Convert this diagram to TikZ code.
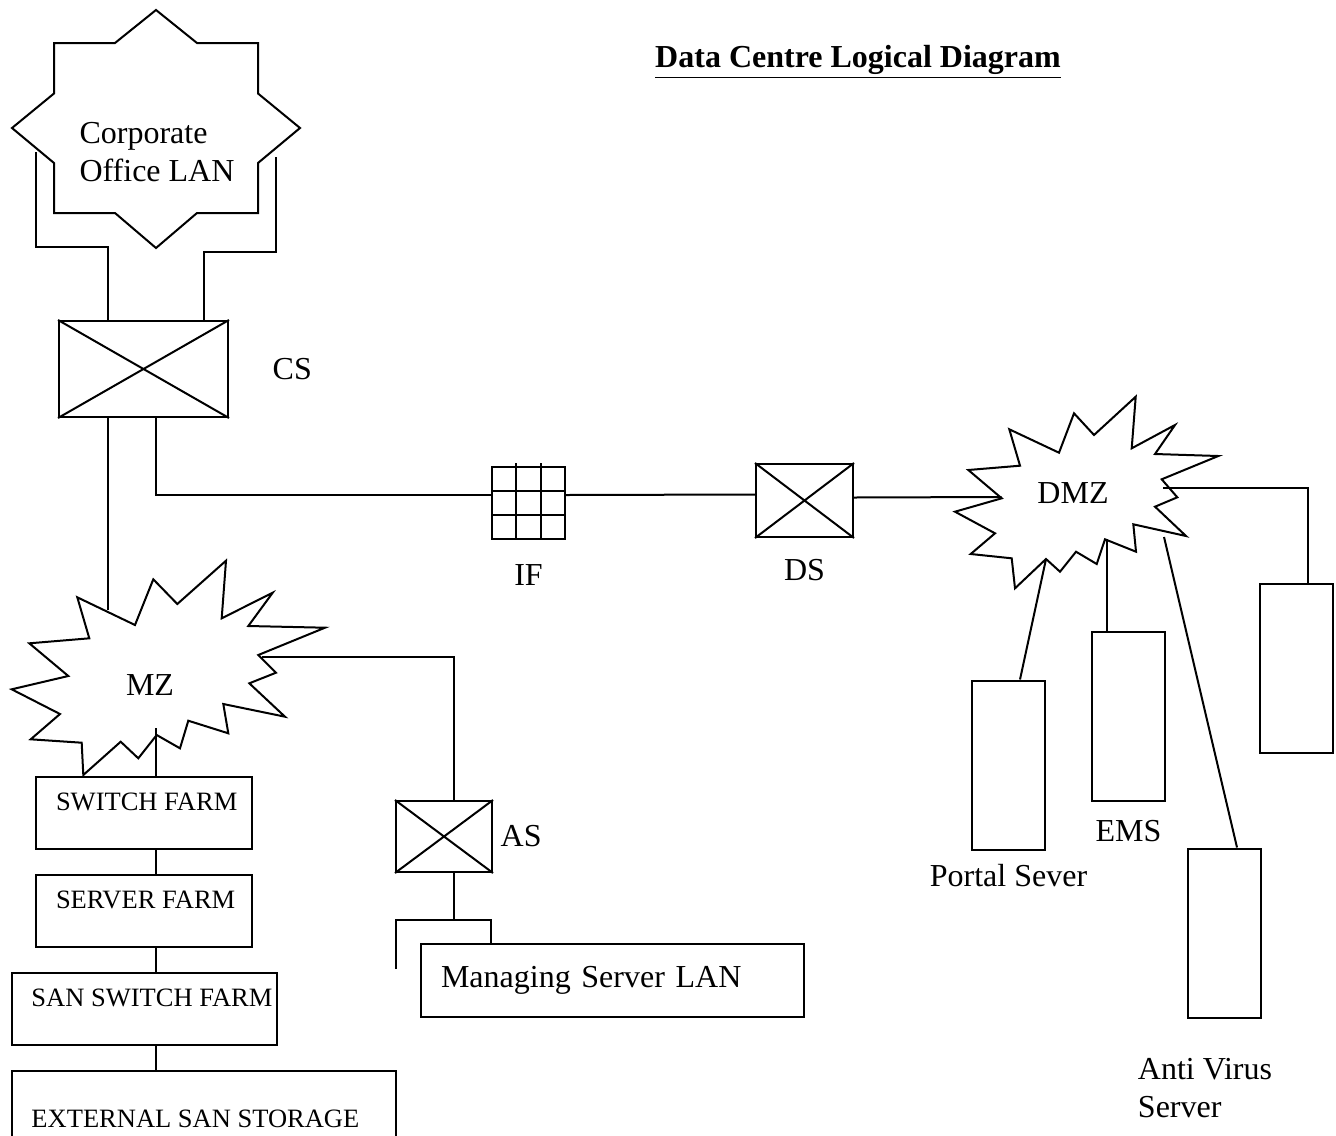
\documentclass[tikz,border=0pt]{standalone}
\usepackage{fontspec}
\setmainfont{Liberation Serif}
\usetikzlibrary{positioning,calc}
\newcommand{\farmfont}{\fontsize{13.25pt}{16pt}\selectfont}
\tikzset{switchbox/.style={draw, rectangle, inner sep=0pt},
	server/.style={draw, rectangle, inner sep=0pt, minimum width=36.5pt, minimum height=84.5pt},
	farm/.style={draw, rectangle, inner sep=0pt, minimum height=36pt},
	farmtext/.style={anchor=base west, inner sep=0pt, font=\farmfont}}

\begin{document}
\begin{tikzpicture}[x=0.5pt, y=-0.5pt, line width=1pt, font={\fontsize{16pt}{19pt}\selectfont}]
	\path[use as bounding box, fill=white] (0,0) rectangle (1336,1135);
	% clouds
	\draw (156,10) -- (197,43) -- (258,43) -- (258,93.5) -- (300,128) -- (258,163) -- (258,213) -- (197,213) -- (156,248) -- (115,213) -- (54,213) -- (54,163) -- (12,128) -- (54,93.5) -- (54,43) -- (115,43) -- cycle;
	\draw (77.3,597.3) -- (135,625) -- (153.3,579.3) -- (177.3,604) -- (226,560.7) -- (221.7,618.3) -- (272.7,592.7) -- (248.3,626) -- (325,627.7) -- (258.3,655) -- (276,672.7) -- (249.3,683.3) -- (285,716.7) -- (223.3,704) -- (228.3,733.3) -- (188.3,720.7) -- (180,748.3) -- (156.7,735) -- (138.3,758.3) -- (120.7,741.7) -- (83.3,775) -- (81.7,742.7) -- (30.7,739.3) -- (60,714) -- (11.7,689.3) -- (68.3,676) -- (29.3,643.3) -- (89.3,638.3) -- cycle;
	\draw (968.3,470) -- (1020,465.7) -- (1009.3,429.3) -- (1059,452.7) -- (1074,413.3) -- (1094,435) -- (1135.7,396.7) -- (1131.7,448.3) -- (1175,425) -- (1155,454) -- (1218.3,456) -- (1161.7,479.3) -- (1177.3,497.3) -- (1155,506.7) -- (1186,536) -- (1133.3,524.3) -- (1136,551.7) -- (1105,539.3) -- (1096.7,564) -- (1076,551.7) -- (1060,571.7) -- (1046,559) -- (1015,588.3) -- (1011.7,558.3) -- (970.7,554) -- (995,533.3) -- (955,511.7) -- (1001.7,498.3) -- cycle;
	\node[align=left] (lan) at (157,152) {Corporate\\Office LAN};
	\node (mz) at (150,685) {MZ};
	\node (dmz) at (1073,493) {DMZ};
	\node[font={\fontsize{16pt}{19pt}\selectfont\bfseries}] (title) at (858,62) {\underline{Data Centre Logical Diagram}};
	\coordinate (lanL) at (36,152);
	\coordinate (lanR) at (276,157);
	\coordinate (mzT) at (108,610);
	\coordinate (mzE) at (262,657);
	\coordinate (mzB) at (156,728);
	\coordinate (dmzW) at (1001.7,497);
	\coordinate (dmzE) at (1163,488);
	\coordinate (dmzP) at (1046,559);
	\coordinate (dmzM) at (1107,539);
	\coordinate (dmzA) at (1164,537);
	\coordinate (msfree) at (396,969);
	% switches and firewall
	\node[switchbox, minimum width=84.5pt, minimum height=48pt] (cs) at (143.5,369) {};
	\node[right=18pt of cs] (cslbl) {CS};
	\node[switchbox, minimum width=36.5pt, minimum height=36pt] (fw) at (528.5,503) {};
	\node[below=8.5pt of fw] (fwlbl) {IF};
	\node[switchbox, minimum width=48.5pt, minimum height=36.5pt] (ds) at (804.5,500.5) {};
	\node[below=7pt of ds] (dslbl) {DS};
	\node[switchbox, minimum width=48pt, minimum height=35.5pt] (as) at (444,836.5) {};
	\node[right=0pt of as] (aslbl) {AS};
	\foreach \s in {cs,ds,as}
		\draw (\s.north west) -- (\s.south east) (\s.north east) -- (\s.south west);
	\foreach \f in {1,2} {
		\draw ($(fw.north west)!\f/3!(fw.north east)$) ++(0,-3) -- ($(fw.south west)!\f/3!(fw.south east)$);
		\draw ($(fw.north west)!\f/3!(fw.south west)$) -- ($(fw.north east)!\f/3!(fw.south east)$);
	}
	% farms
	\node[farm, minimum width=108pt] (swf) at (144,813) {};
	\node[farmtext] (swftxt) at ([shift={(10pt,-17pt)}]swf.north west) {SWITCH FARM};
	\node[farm, minimum width=108pt, below=12pt of swf] (svf) {};
	\node[farmtext] (svftxt) at ([shift={(10pt,-17pt)}]svf.north west) {SERVER FARM};
	\node[farm, minimum width=132.5pt, below=12pt of svf] (sanf) {};
	\node[farmtext] (sanftxt) at ([shift={(10pt,-17pt)}]sanf.north west) {SAN SWITCH FARM};
	\node[farm, minimum width=192pt, minimum height=40pt, below=12pt of sanf.south west, anchor=north west] (ext) {};
	\node[farmtext] (exttxt) at ([shift={(10pt,-28.5pt)}]ext.north west) {EXTERNAL SAN STORAGE};
	\node[draw, inner xsep=10pt, text width=171.5pt, align=left, minimum height=36.5pt] (msl) at (612.5,980.5) {Managing Server LAN};
	% servers
	\node[server] (portal) at (1008.5,765) {};
	\node[below=3pt of portal] (portallbl) {Portal Sever};
	\node[server] (ems) at (1128.5,716.5) {};
	\node[below=5.5pt of ems] (emslbl) {EMS};
	\node[server] (av) at (1224.5,933) {};
	\node[align=left] (avlbl) at (1205,1088) {Anti Virus\\Server};
	\node[server] (rsrv) at (1296.5,668.5) {};
	% links
	\draw ([xshift=-17.75pt]cs.north) -- ++(0,-73) -| (lanL);
	\draw ([xshift=30.25pt]cs.north) -- ++(0,-68) -| (lanR);
	\draw ([xshift=-17.75pt]cs.south) -- (mzT);
	\draw ([xshift=6.25pt]cs.south) |- ([yshift=4pt]fw.west);
	\draw ([yshift=4pt]fw.east) -- ([yshift=3pt]ds.west);
	\draw ([yshift=1.5pt]ds.east) -- (dmzW);
	\draw (mzE) -| ([xshift=5pt]as.north);
	\draw ([xshift=5pt]as.south) -- ++(0,48);
	\draw (msfree) -- ++(0,-49) -| ([xshift=35.5pt]msl.north west);
	\draw (mzB) -- (mzB |- swf.north);
	\draw (mzB |- swf.south) -- (mzB |- svf.north);
	\draw (mzB |- svf.south) -- (mzB |- sanf.north);
	\draw (mzB |- sanf.south) -- (mzB |- ext.north);
	\draw (dmzE) -| ([xshift=5.75pt]rsrv.north);
	\draw (dmzP) -- ([xshift=5.75pt]portal.north);
	\draw (dmzM) -- (dmzM |- ems.north);
	\draw (dmzA) -- ([xshift=6.25pt]av.north);
\end{tikzpicture}
\end{document}
